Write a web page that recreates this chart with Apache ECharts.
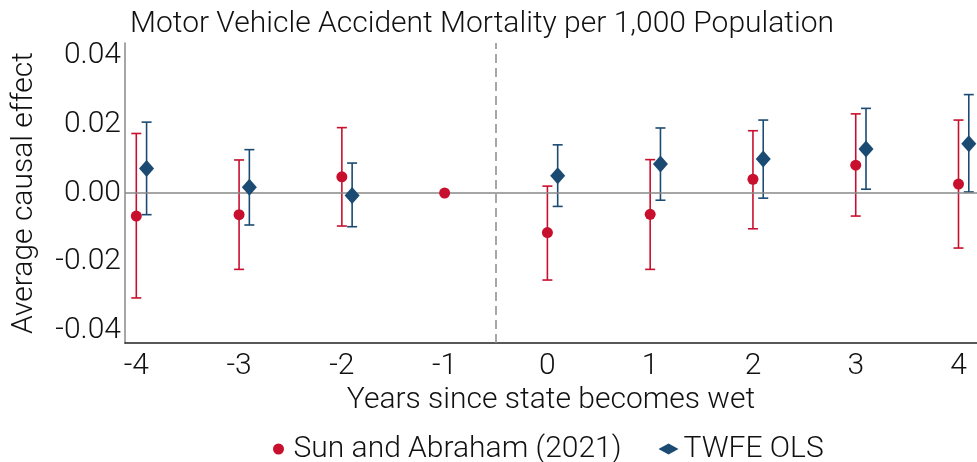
<!DOCTYPE html>
<html>
<head>
<meta charset="utf-8">
<script src="https://cdn.jsdelivr.net/npm/echarts@6/dist/echarts.min.js"></script>
<style>
html,body{margin:0;padding:0;background:#fff;}
#chart{width:977px;height:462px;}
</style>
</head>
<body>
<div id="chart"></div>
<script>
// ---- data ----
const years = [-4, -3, -2, -1, 0, 1, 2, 3, 4];
const yTicks = [-0.04, -0.02, 0, 0.02, 0.04];
const saEst  = [-0.0067, -0.0063, 0.0047, 0.0, -0.0115, -0.0062, 0.0040, 0.0081, 0.0026];
const saLow  = [-0.0305, -0.0222, -0.0096, null, -0.0253, -0.0222, -0.0104, -0.0067, -0.0160];
const saHigh = [0.0173, 0.0096, 0.0190, null, 0.0020, 0.0097, 0.0181, 0.0230, 0.0212];
const twEst  = [0.0071, 0.0017, -0.0007, null, 0.0050, 0.0084, 0.0099, 0.0128, 0.0143];
const twLow  = [-0.0063, -0.0093, -0.0098, null, -0.0039, -0.0021, -0.0015, 0.0011, 0.0003];
const twHigh = [0.0206, 0.0126, 0.0087, null, 0.0140, 0.0189, 0.0212, 0.0246, 0.0286];
const seriesNames = ['Sun and Abraham (2021)', 'TWFE OLS'];

const RED = '#c8102e', BLUE = '#1b4a72';
const DODGE = 0.1;
const FONT = 'Roboto';
const FS = 30;

function pts(est, off) {
  return years.map((x, i) => est[i] == null ? null : [x + off, est[i]]).filter(d => d);
}
function bars(lo, hi, off) {
  return years.map((x, i) => lo[i] == null ? null : [x + off, lo[i], hi[i]]).filter(d => d);
}
function errItem(color) {
  return function (params, api) {
    const x = api.value(0);
    const p1 = api.coord([x, api.value(1)]);
    const p2 = api.coord([x, api.value(2)]);
    const w = 5;
    const st = { stroke: color, lineWidth: 1.6 };
    return { type: 'group', children: [
      { type: 'line', shape: { x1: p1[0], y1: p1[1], x2: p2[0], y2: p2[1] }, style: st },
      { type: 'line', shape: { x1: p1[0] - w, y1: p1[1], x2: p1[0] + w, y2: p1[1] }, style: st },
      { type: 'line', shape: { x1: p2[0] - w, y1: p2[1], x2: p2[0] + w, y2: p2[1] }, style: st }
    ]};
  };
}

const txt = { fontFamily: FONT, fontWeight: 300, fontSize: FS, color: '#111' };

const chart = echarts.init(document.getElementById('chart'), null, { renderer: 'canvas' });
chart.setOption({
  animation: false,
  backgroundColor: '#fff',
  textStyle: { fontFamily: FONT },
  title: {
    text: 'Motor Vehicle Accident Mortality per 1,000 Population',
    left: 125, top: 4,
    textStyle: Object.assign({}, txt, { fontSize: 30 })
  },
  legend: {
    data: [
      { name: seriesNames[0], icon: 'circle', itemStyle: { color: RED } },
      { name: seriesNames[1], icon: 'diamond', itemStyle: { color: BLUE } }
    ],
    left: 268, top: 429,
    itemWidth: 20, itemHeight: 11, itemGap: 37, symbolKeepAspect: true,
    textStyle: txt
  },
  grid: { left: 125, right: 0, top: 43, bottom: 119, containLabel: false, outerBoundsMode: 'none' },
  xAxis: {
    type: 'value', min: -4.11, max: 4.18,
    name: 'Years since state becomes wet', nameLocation: 'middle', nameGap: 36,
    nameTextStyle: txt,
    axisLine: { onZero: false, lineStyle: { color: '#222', width: 1.5 } },
    axisTick: { show: false },
    splitLine: { show: false },
    axisLabel: Object.assign({ customValues: years, margin: 8, formatter: v => String(v) }, txt)
  },
  yAxis: {
    type: 'value', min: -0.0436, max: 0.0436,
    name: 'Average causal effect', nameLocation: 'middle', nameGap: 86,
    nameTextStyle: txt,
    axisLine: { show: true, onZero: false, lineStyle: { color: '#888', width: 1.5 } },
    axisTick: { show: false },
    splitLine: { show: false },
    axisLabel: Object.assign({ customValues: yTicks, margin: 4, formatter: v => v.toFixed(2) }, txt)
  },
  series: [
    {
      name: 'zero', type: 'line', data: [], silent: true,
      markLine: {
        silent: true, symbol: 'none', label: { show: false },
        data: [
          { yAxis: 0, lineStyle: { color: '#888', width: 1.6, type: 'solid' } },
          { xAxis: -0.5, lineStyle: { color: '#8a8a8a', width: 1.5, type: [9, 5] } }
        ]
      }
    },
    { name: seriesNames[0] + ' CI', type: 'custom', renderItem: errItem(RED), data: bars(saLow, saHigh, 0), z: 3, silent: true },
    { name: seriesNames[1] + ' CI', type: 'custom', renderItem: errItem(BLUE), data: bars(twLow, twHigh, DODGE), z: 3, silent: true },
    { name: seriesNames[0], type: 'scatter', symbol: 'circle', symbolSize: 11, itemStyle: { color: RED, opacity: 1 }, data: pts(saEst, 0), z: 5 },
    { name: seriesNames[1], type: 'scatter', symbol: 'diamond', symbolSize: [15, 17], itemStyle: { color: BLUE, opacity: 1 }, data: pts(twEst, DODGE), z: 5 }
  ]
});
</script>
</body>
</html>
